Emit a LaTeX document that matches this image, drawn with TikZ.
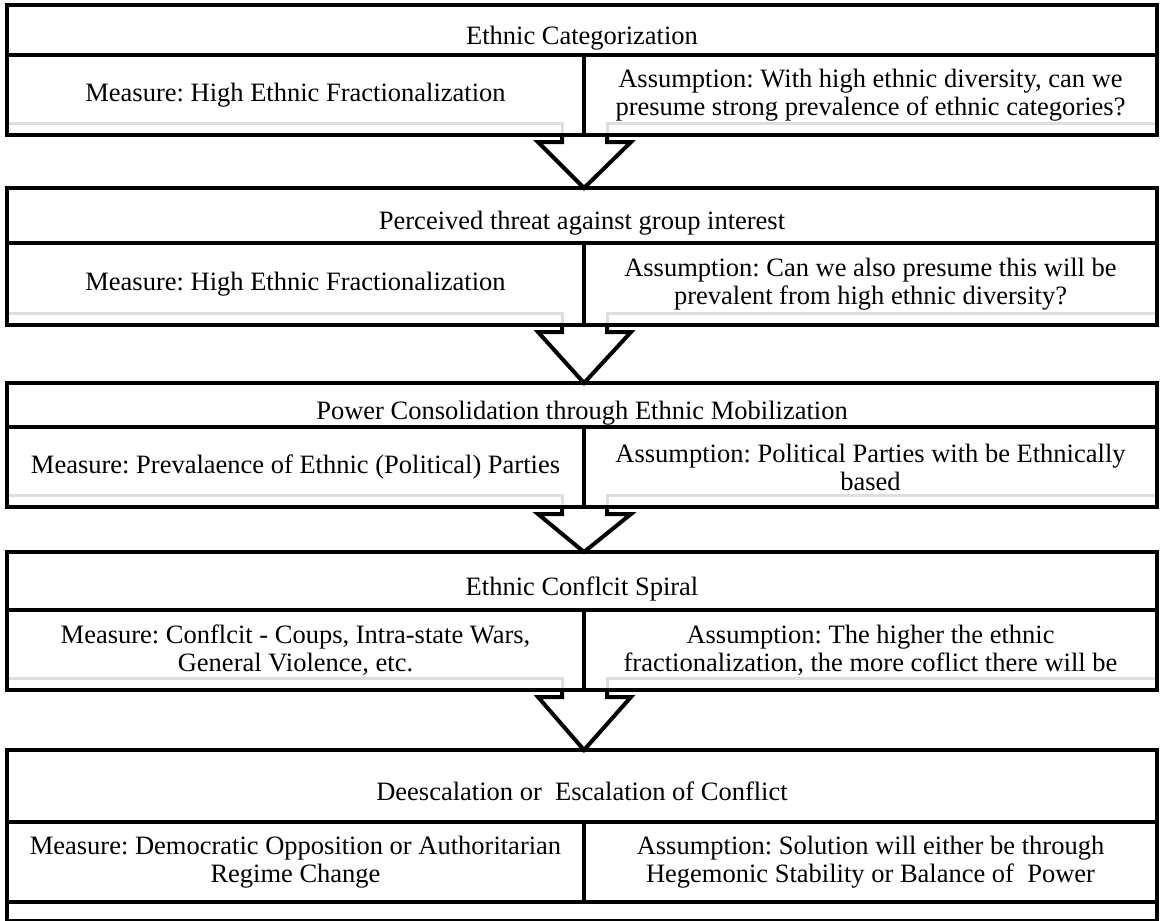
\documentclass[tikz,border=0pt]{standalone}
\usepackage{fontspec}
\setmainfont{Liberation Serif}
\frenchspacing
\usetikzlibrary{backgrounds}
\begin{document}
\begin{tikzpicture}[x=1pt,y=-1pt,
        box/.style={draw,line width=4pt,rectangle,inner sep=2pt,outer sep=0pt,align=center,font=\fontsize{26.5}{28}\selectfont},
        head/.style={box,minimum width=1150pt,text height=28pt,text depth=0pt},
        lcell/.style={box,minimum width=577pt,minimum height=80pt},
        rcell/.style={box,minimum width=573pt,minimum height=80pt},
        arrowline/.style={line width=4pt,line join=miter},
        shade/.style={line width=3pt,black!13}]
        \useasboundingbox (0,0) rectangle (1160,921);
        \node[head,minimum height=50pt] (h1) at (582,30) {Ethnic Categorization};
        \node[lcell] (m1) at (295.5,95) {Measure: High Ethnic Fractionalization};
        \node[rcell] (a1) at (870.5,95) {Assumption: With high ethnic diversity, can we\\presume strong prevalence of ethnic categories?};
        \node[head,minimum height=55pt] (h2) at (582,215.5) {Perceived threat against group interest};
        \node[lcell,minimum height=82pt] (m2) at (295.5,284) {Measure: High Ethnic Fractionalization};
        \node[rcell,minimum height=82pt] (a2) at (870.5,284) {Assumption: Can we also presume this will be\\prevalent from high ethnic diversity?};
        \node[head,minimum height=44pt] (h3) at (582,405) {Power Consolidation through Ethnic Mobilization};
        \node[lcell] (m3) at (295.5,467) {Measure: Prevalaence of Ethnic (Political) Parties};
        \node[rcell] (a3) at (870.5,467) {Assumption: Political Parties with be Ethnically\\based};
        \node[head,minimum height=58pt] (h4) at (582,581) {Ethnic Conflcit Spiral};
        \node[lcell] (m4) at (295.5,650) {Measure: Conflcit - Coups, Intra-state Wars,\\General Violence, etc.};
        \node[rcell] (a4) at (870.5,650) {Assumption: The higher the ethnic\\fractionalization, the more coflict there will be};
        \node[head,minimum height=72pt] (h5) at (582,786) {Deescalation or~~Escalation of Conflict};
        \node[lcell] (m5) at (295.5,862) {Measure: Democratic Opposition or Authoritarian\\Regime Change};
        \node[rcell] (a5) at (870.5,862) {Assumption: Solution will either be through\\Hegemonic Stability or Balance of~~Power};
        \node[box,minimum width=1150pt,minimum height=19pt] (x5) at (582,911.5) {};
        \begin{scope}[on background layer]
            \foreach \u in {1,2,3,4}{
                \draw[shade] ([yshift=12pt]m\u.south west) -| ([xshift=-22pt]m\u.south east);
                \draw[shade] ([xshift=23pt]a\u.south west) |- ([yshift=12pt]a\u.south east);
            }
        \end{scope}
        \foreach \u/\v in {1/2,2/3,3/4,4/5}
            \draw[arrowline] ([xshift=-22pt]m\u.south east) |- ([xshift=-46pt,yshift=-7pt]m\u.south east)
                -- (h\v.north -| m\u.south east)
                -- ([xshift=47pt,yshift=-7pt]m\u.south east) -| ([xshift=23pt]m\u.south east);
    \end{tikzpicture}
\end{document}
